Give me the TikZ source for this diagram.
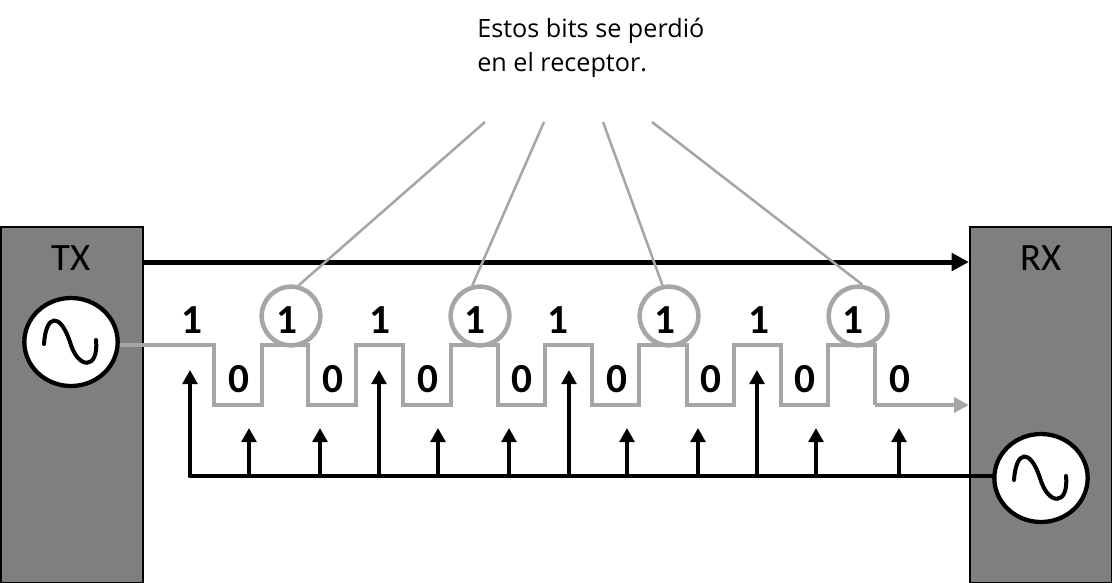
\documentclass[tikz,border=0pt]{standalone}
\usepackage{fontspec}
\setmainfont{Carlito}
\newfontfamily\notefont{Open Sans}
\usetikzlibrary{arrows.meta, shapes.geometric}

\tikzset{
    unit/.style={draw=black, line width=1.7pt, fill=gray7, rectangle, inner sep=0pt, minimum width=106.5pt, minimum height=267pt},
    osc/.style={draw=black, line width=3.2pt, fill=white, ellipse, inner sep=0pt, minimum width=70pt, minimum height=66pt},
    lost/.style={draw=gray6, line width=3.4pt, circle, inner sep=0pt, minimum size=44pt},
    bit/.style={font=\fontsize{31}{33}\selectfont\bfseries, inner sep=0pt},
    wave/.style={draw=gray6, line width=3.5pt},
    leader/.style={draw=gray6, line width=1.9pt},
    clock/.style={line width=3.3pt, -{Triangle[length=10.5pt, width=11pt]}},
    sine/.style={line width=3pt, line cap=round}
}
\definecolor{gray7}{HTML}{7F7F7F}
\definecolor{gray6}{HTML}{A6A6A6}

\begin{document}
\begin{tikzpicture}[x=0.75pt, y=-0.75pt]
    \useasboundingbox (0,0) rectangle (1112,582);

    \node[unit] (tx) at (72,405) {};
    \node[unit] (rx) at (1041,405) {};
    \node[font=\fontsize{29}{30}\selectfont] (txlabel) at (71,258) {TX};
    \node[font=\fontsize{29}{30}\selectfont] (rxlabel) at (1041,258) {RX};

    \node[osc] (txosc) at (71,342) {};
    \node[osc] (rxosc) at (1041,478) {};
    % the two sine marks
    \foreach \o in {txosc, rxosc}
        \draw[sine] ([shift={(-27,2)}]\o.center) .. controls +(2,-30) and +(-10,-30) .. ([shift={(-1,0)}]\o.center)
            .. controls +(8,28) and +(3,30) .. ([shift={(25,-2)}]\o.center);

    \node[font=\notefont\fontsize{18.9}{25.5}\selectfont, align=left, anchor=north west, inner sep=0pt] (note) at (477,18) {Estos bits se perdió\\en el receptor.};

    \draw[line width=3.75pt, -{Triangle[length=13pt, width=13pt]}] (tx.east |- 0,262) -- (rx.west |- 0,262);

    % signal
    \draw[wave] (txosc.east |- 0,345) -| (214,405) -| (262,345) -| (308,405) -| (356,345) -| (403,405)
        -| (451,345) -| (498,405) -| (545,345) -| (592,405) -| (639,345) -| (687,405) -| (734,345)
        -| (781,405) -| (828,345) -| (875,405);
    \coordinate (wavelast) at (875,405);
    \draw[wave, -{Triangle[length=11pt, width=11pt]}] (wavelast) -- (rx.west |- wavelast);

    % bits
    \foreach \x/\n in {192/a, 380/b, 558/c, 759/d}
        \node[bit] (one\n) at (\x,320) {1};
    \foreach \x/\n in {287/a, 475/b, 665/c, 853/d}
        \node[bit] (lostbit\n) at (\x,320) {1};
    \foreach \x/\n in {239/a, 333/b, 428/c, 522/d, 617/e, 711/f, 805/g, 900/h}
        \node[bit] (zero\n) at (\x,379) {0};

    % lost bits and leaders
    \foreach \x/\n in {291/a, 480/b, 669/c, 858/d}
        \node[lost] (ring\n) at (\x,316) {};
    \foreach \x/\n/\a in {485/a/76, 544/b/104, 603/c/102, 652/d/82} {
        \coordinate (tip\n) at (\x,122);
        \draw[leader] (tip\n) -- (ring\n.\a);
    }

    % sampling clock
    \coordinate (clockend) at (190,476);
    \draw[line width=3.3pt, line cap=round] (rxosc.west |- clockend) -- (clockend);
    \foreach \x in {190, 379, 569, 757}
        \draw[clock] (\x,476) -- (\x,370);
    \foreach \x in {249, 320, 438, 509, 627, 698, 816, 899}
        \draw[clock] (\x,476) -- (\x,428);
\end{tikzpicture}
\end{document}
